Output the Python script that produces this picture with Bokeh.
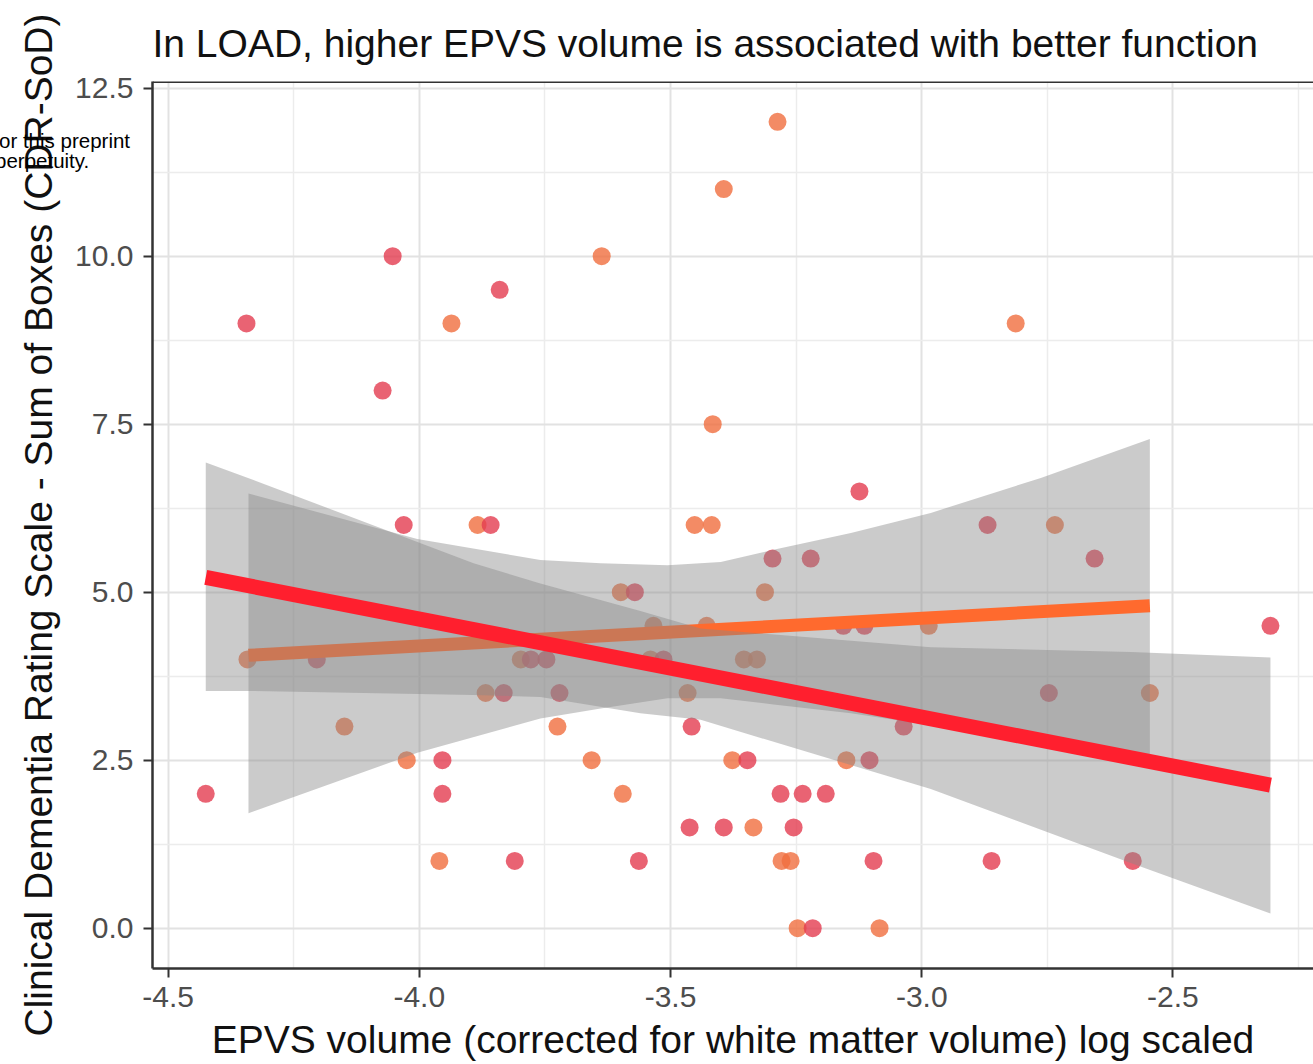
from bokeh.plotting import figure
from bokeh.models import FixedTicker, Span, Range1d, PrintfTickFormatter, Div
from bokeh.layouts import column
from bokeh.embed import file_html
from bokeh.resources import INLINE

# ---- data ----
red_x = [-4.053, -3.840, -4.344, -4.073, -3.124, -4.031, -3.858, -2.869, -3.297, -3.221,
         -2.656, -3.571, -3.156, -3.114, -2.306, -4.204, -3.778, -3.747, -3.514, -3.832,
         -3.721, -2.747, -3.458, -3.036, -3.954, -3.347, -3.104, -4.425, -3.954, -3.281,
         -3.237, -3.191, -3.462, -3.394, -3.255, -3.810, -3.563, -3.096, -2.861, -2.580,
         -3.217]
red_y = [10.0, 9.5, 9.0, 8.0, 6.5, 6.0, 6.0, 6.0, 5.5, 5.5,
         5.5, 5.0, 4.5, 4.5, 4.5, 4.0, 4.0, 4.0, 4.0, 3.5,
         3.5, 3.5, 3.0, 3.0, 2.5, 2.5, 2.5, 2.0, 2.0, 2.0,
         2.0, 2.0, 1.5, 1.5, 1.5, 1.0, 1.0, 1.0, 1.0, 1.0,
         0.0]

orange_x = [-3.287, -3.394, -3.637, -3.936, -2.813, -3.416, -3.884, -3.452, -3.418, -2.735,
            -3.599, -3.312, -3.534, -3.428, -2.986, -4.342, -3.798, -3.540, -3.354, -3.328,
            -3.868, -3.466, -2.546, -4.149, -3.725, -4.025, -3.657, -3.377, -3.150, -3.595,
            -3.335, -3.960, -3.279, -3.261, -3.247, -3.084]
orange_y = [12.0, 11.0, 10.0, 9.0, 9.0, 7.5, 6.0, 6.0, 6.0, 6.0,
            5.0, 5.0, 4.5, 4.5, 4.5, 4.0, 4.0, 4.0, 4.0, 4.0,
            3.5, 3.5, 3.5, 3.0, 3.0, 2.5, 2.5, 2.5, 2.5, 2.0,
            1.5, 1.0, 1.0, 1.0, 0.0, 0.0]

# fitted lines (end points) and confidence bands
red_fit_x = [-4.425, -2.306]
red_fit_y = [5.22, 2.13]
red_band_x = [-4.425, -4.330, -3.892, -3.759, -3.560, -3.440, -2.982, -2.584, -2.306]
red_band_lo = [3.53, 3.53, 3.47, 3.44, 3.20, 3.10, 2.07, 0.97, 0.22]
red_band_hi = [6.93, 6.67, 5.43, 5.13, 4.72, 4.46, 4.18, 4.11, 4.03]

orange_fit_x = [-4.340, -2.546]
orange_fit_y = [4.06, 4.80]
orange_band_x = [-4.340, -4.004, -3.759, -3.639, -3.506, -3.400, -3.295, -3.141, -2.982, -2.763, -2.546]
orange_band_lo = [1.71, 2.61, 3.12, 3.27, 3.42, 3.42, 3.33, 3.20, 3.02, 2.72, 2.50]
orange_band_hi = [6.47, 5.79, 5.48, 5.43, 5.40, 5.45, 5.63, 5.88, 6.18, 6.70, 7.28]

x_ticks = [-4.5, -4.0, -3.5, -3.0, -2.5]
x_minor = [-4.25, -3.75, -3.25, -2.75, -2.25]
y_ticks = [0.0, 2.5, 5.0, 7.5, 10.0, 12.5]
y_minor = [1.25, 3.75, 6.25, 8.75, 11.25]

title_text = "In LOAD, higher EPVS volume is associated with better function"
x_title = "EPVS volume (corrected for white matter volume) log scaled"
y_title = "Clinical Dementia Rating Scale - Sum of Boxes (CDR-SoD)"
header_lines = ["or this preprint", "perpetuity."]

FONT = "Liberation Sans"
X0, X1 = -4.531, -2.2203
Y0, Y1 = -0.6, 12.6

p = figure(width=1313, height=1064, x_range=Range1d(X0, X1), y_range=Range1d(Y0, Y1),
           output_backend="svg", toolbar_location=None,
           min_border_left=152, min_border_right=0, min_border_top=81, min_border_bottom=96)
p.background_fill_color = "white"
p.border_fill_color = "white"
p.outline_line_color = None

# title
p.title.text = title_text
p.title.text_font = FONT
p.title.text_font_size = "39px"
p.title.text_font_style = "normal"
p.title.text_color = "#111111"
p.title.align = "left"
p.title.standoff = 34

# grids
for g, minor in ((p.xgrid, x_minor), (p.ygrid, y_minor)):
    g.grid_line_color = "#E2E2E2"
    g.grid_line_width = 2
    g.minor_grid_line_color = "#ECECEC"
    g.minor_grid_line_width = 1.5

p.xaxis.ticker = FixedTicker(ticks=x_ticks, minor_ticks=x_minor)
p.yaxis.ticker = FixedTicker(ticks=y_ticks, minor_ticks=y_minor)
p.xaxis.formatter = PrintfTickFormatter(format="%.1f")
p.yaxis.formatter = PrintfTickFormatter(format="%.1f")

for ax in (p.xaxis, p.yaxis):
    ax.axis_line_color = "#333333"
    ax.axis_line_width = 2.5
    ax.major_tick_line_color = "#333333"
    ax.major_tick_line_width = 2
    ax.major_tick_out = 9
    ax.major_tick_in = 0
    ax.minor_tick_line_color = None
    ax.major_label_text_font = FONT
    ax.major_label_text_font_size = "30px"
    ax.major_label_text_color = "#4D4D4D"
    ax.axis_label_text_font = FONT
    ax.axis_label_text_font_size = "39px"
    ax.axis_label_text_font_style = "normal"
    ax.axis_label_text_color = "#111111"

p.xaxis.axis_label = x_title
p.yaxis.axis_label = y_title
p.xaxis.major_label_standoff = 9
p.xaxis.axis_label_standoff = 8
p.yaxis.major_label_standoff = 10
p.yaxis.axis_label_standoff = 12

# top border of the panel
p.add_layout(Span(location=Y1, dimension="width", line_color="#333333", line_width=3))

# points (drawn first so ribbons shade them)
p.scatter(orange_x, orange_y, size=18, fill_color="#F06E3E", fill_alpha=0.8, line_color=None)
p.scatter(red_x, red_y, size=18, fill_color="#E43C50", fill_alpha=0.8, line_color=None)

# orange group smooth
p.varea(x=orange_band_x, y1=orange_band_lo, y2=orange_band_hi, fill_color="#898989", fill_alpha=0.44)
p.line(orange_fit_x, orange_fit_y, line_color="#FF6A2E", line_width=13)
# red group smooth
p.varea(x=red_band_x, y1=red_band_lo, y2=red_band_hi, fill_color="#898989", fill_alpha=0.44)
p.line(red_fit_x, red_fit_y, line_color="#FF1F2E", line_width=15)

# stray header text from the source page, overlaid at the top left
header_html = (
    "<div style=\"font-family:'Liberation Sans',Arial,sans-serif;font-size:20.5px;"
    "line-height:20px;color:#000;white-space:nowrap;\">"
    + header_lines[0]
    + "<br><span style=\"position:relative;left:-4px;\">" + header_lines[1] + "</span></div>"
)
header = Div(text=header_html, width=140, height=44,
             styles={"position": "absolute", "left": "-6px", "top": "126px", "z-index": "10",
                     "pointer-events": "none"})

layout = column(p, header)
open("out.html", "w").write(file_html(layout, INLINE))
